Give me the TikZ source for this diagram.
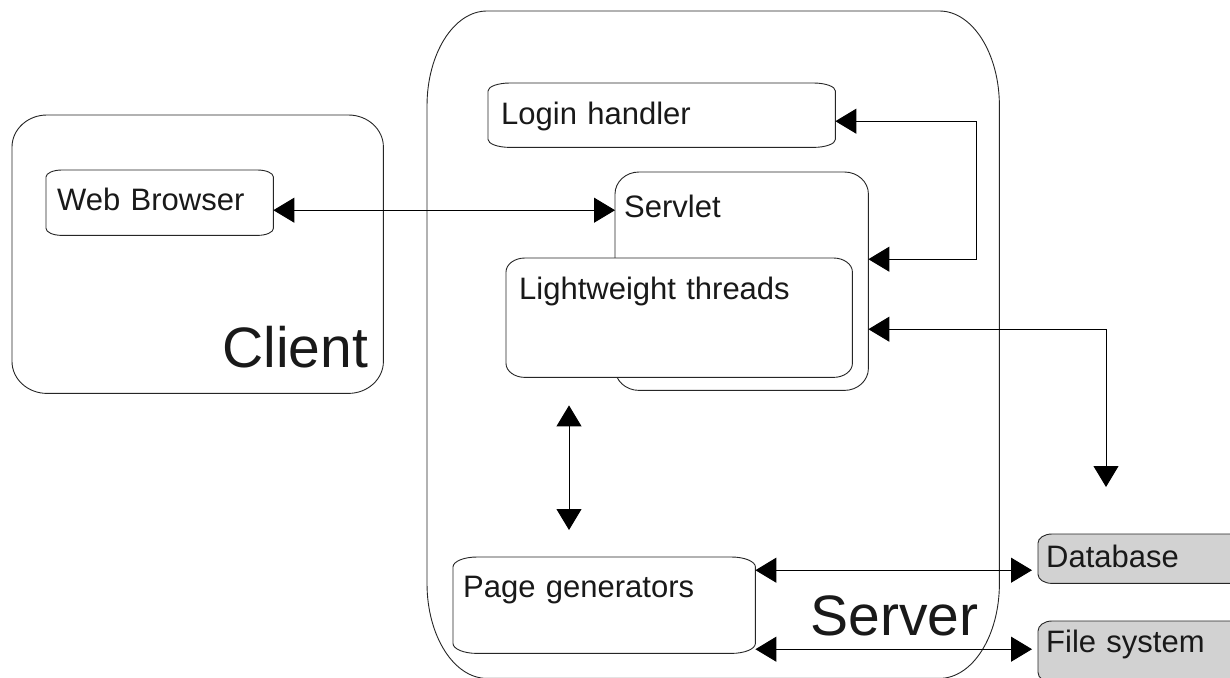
\documentclass[tikz,border=0pt]{standalone}
\usepackage{fontspec}
\setmainfont{Liberation Sans}
\usetikzlibrary{arrows.meta}

\tikzset{
  boxline/.style={draw=black!85, line width=0.9pt},
  % box with elliptic corners: x radius, y radius, fill
  oval/.style n args={3}{append after command={\pgfextra{%
    \edef\ovalname{\tikzlastnode}%
    \draw[boxline, fill=#3]
      ([xshift=#1]\ovalname.north west) -- ([xshift=-#1]\ovalname.north east)
      arc[start angle=90, end angle=0, x radius=#1, y radius=#2]
      -- ([yshift=#2]\ovalname.south east)
      arc[start angle=0, end angle=-90, x radius=#1, y radius=#2]
      -- ([xshift=#1]\ovalname.south west)
      arc[start angle=270, end angle=180, x radius=#1, y radius=#2]
      -- ([yshift=-#2]\ovalname.north west)
      arc[start angle=180, end angle=90, x radius=#1, y radius=#2] -- cycle;}}},
  unit/.style={anchor=north west, align=left, inner ysep=0pt, text=black!90,
    font=\fontsize{31}{36}\selectfont},
  tier/.style={anchor=north west, inner sep=0pt},
  tiername/.style={anchor=base east, inner sep=0pt, text=black!90,
    font=\fontsize{57}{64}\selectfont},
  link/.style={<->, >={Triangle[length=21pt, width=25pt]}, line width=1pt},
}

\begin{document}
\begin{tikzpicture}[x=1pt, y=-1pt]
  \useasboundingbox (0,0) rectangle (1230,677);
  \clip (0,0) rectangle (1230,677);

  % client side
  \node[tier, minimum width=371pt, minimum height=278pt, oval={35pt}{32pt}{white}] (client) at (12,115) {};
  \node[tiername] (clientname) at ([shift={(-15pt,26pt)}]client.south east) {Client};
  \node[unit, text width=205pt, inner xsep=11pt, text height=40pt, text depth=25pt,
    oval={16pt}{7pt}{white}] (web) at (46,170) {Web Browser};

  % server side
  \node[tier, minimum width=572pt, minimum height=667pt, oval={60pt}{95pt}{white}] (server) at (427,11) {};
  \node[tiername] (servername) at ([shift={(-21pt,43pt)}]server.south east) {Server};
  \node[unit, text width=321pt, inner xsep=13pt, text height=41pt, text depth=23pt,
    oval={22pt}{8pt}{white}] (login) at (488,83) {Login handler};
  \node[unit, text width=235pt, inner xsep=9pt, text height=45pt, text depth=173pt,
    oval={24pt}{22pt}{white}] (servlet) at (615,172) {Servlet};
  \node[unit, text width=320pt, inner xsep=13pt, text height=41pt, text depth=78pt,
    oval={19pt}{14pt}{white}] (threads) at (506,258) {Lightweight threads};
  \node[unit, text width=282pt, inner xsep=10pt, text height=40pt, text depth=56pt,
    oval={24pt}{10pt}{white}] (pagegen) at (453,557) {Page generators};

  % storage
  \node[unit, text width=204pt, inner xsep=8pt, text height=33pt, text depth=16pt,
    oval={14pt}{9pt}{gray!35}] (database) at (1038,534) {Database};
  \node[unit, text width=204pt, inner xsep=8pt, text height=31pt, text depth=30pt,
    oval={14pt}{10pt}{gray!35}] (filesys) at (1038,621) {File system};

  % browser <-> servlet
  \coordinate (webport) at ([yshift=-7.5pt]web.east);
  \draw[link] (webport) -- (webport -| servlet.west);

  % login handler loop
  \coordinate (loginport) at ([yshift=-6pt]login.east);
  \coordinate (servletup) at ([yshift=22pt]servlet.east);
  \draw[link] (loginport) -| ([xshift=108pt]servletup) -- (servletup);

  % servlet down to the database
  \coordinate (servletdown) at ([yshift=-48pt]servlet.east);
  \coordinate (dbdrop) at ([shift={(68pt,47pt)}]database.north west);
  \draw[link] (servletdown) -| (dbdrop);

  % threads <-> page generators
  \coordinate (threadsgap) at ([shift={(63pt,-28pt)}]threads.south west);
  \coordinate (pagegap) at ([shift={(116pt,27pt)}]pagegen.north west);
  \draw[link] (threadsgap) -- (pagegap);

  % page generators <-> storage
  \coordinate (dbport) at ([shift={(-6pt,-11.5pt)}]database.west);
  \draw[link] (dbport -| pagegen.east) -- (dbport);
  \coordinate (fsport) at ([shift={(-6pt,2.5pt)}]filesys.west);
  \draw[link] (fsport -| pagegen.east) -- (fsport);
\end{tikzpicture}
\end{document}
